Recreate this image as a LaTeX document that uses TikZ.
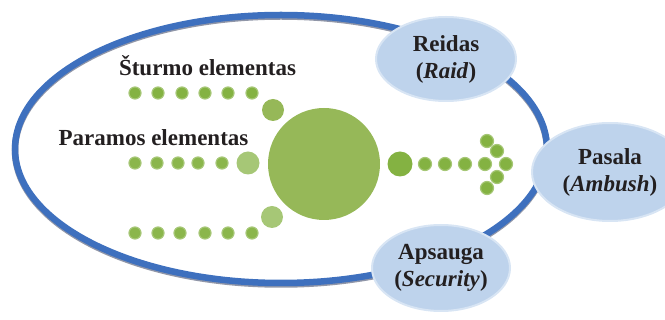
\documentclass[tikz,border=0pt]{standalone}
\usepackage{fontspec}
\setmainfont{Liberation Serif}
\usetikzlibrary{shapes.geometric}

\definecolor{ringblue}{RGB}{62,112,190}
\definecolor{ringshade}{RGB}{70,80,110}
\definecolor{padblue}{RGB}{190,211,236}
\definecolor{leafgreen}{RGB}{132,178,66}
\definecolor{mossgreen}{RGB}{150,184,88}
\definecolor{palegreen}{RGB}{166,199,118}
\definecolor{inkgray}{RGB}{35,31,32}

\begin{document}
\begin{tikzpicture}[
  x=1pt, y=-1pt,
  pad/.style={ellipse, fill=padblue, draw=padblue!60!white, line width=2pt, inner sep=0pt,
    minimum width=140pt, minimum height=84pt, align=center, text=inkgray,
    font=\bfseries\fontsize{23}{27}\selectfont},
  lbl/.style={anchor=base, text=inkgray, inner sep=0pt, font=\bfseries\fontsize{23}{27}\selectfont},
  dot/.style={circle, fill=leafgreen, draw=palegreen, line width=1.2pt, minimum size=12pt, inner sep=0pt},
  ball/.style={circle, fill=mossgreen, inner sep=0pt}
]
\useasboundingbox (0,0) rectangle (665,320);

% outer ring
\draw[ringshade!60, line width=6.5pt] (281,150.5) ellipse [x radius=266, y radius=134];
\draw[ringblue, line width=6.5pt] (281,149) ellipse [x radius=266, y radius=134];

% three rows of elements
\foreach \xx [count=\k] in {135,158,182,205,228,252}
  \node[dot] (st\k) at (\xx,93) {};
\node[ball, minimum size=22pt] (stlink) at (273,110) {};

\foreach \xx [count=\k] in {135,157,178,198,222}
  \node[dot, fill=leafgreen!80!palegreen] (pa\k) at (\xx,163) {};
\node[ball, fill=palegreen, minimum size=23pt] (palink) at (248,163) {};

\foreach \xx [count=\k] in {135,158,180,205,228,252}
  \node[dot, fill=leafgreen!80!palegreen] (ap\k) at (\xx,233) {};
\node[ball, fill=palegreen, minimum size=22pt] (aplink) at (272,217) {};

\node[ball, minimum size=112pt] (core) at (324,164) {};

% arrow towards the ambush
\node[ball, fill=leafgreen, minimum size=25pt] (head) at (400,164) {};
\foreach \xx [count=\k] in {425,445,465,485,506}
  \node[dot, minimum size=13pt] (ar\k) at (\xx,164) {};
\node[dot, minimum size=13pt] (tipa) at (487,141) {};
\node[dot, minimum size=13pt] (tipb) at (497,151) {};
\node[dot, minimum size=13pt] (tipc) at (497,177) {};
\node[dot, minimum size=13pt] (tipd) at (487,188) {};

\node[lbl] (sturm) at (207.5,76) {Šturmo elementas};
\node[lbl] (param) at (153.5,146) {Paramos elementas};

% tasks
\node[pad] (raid) at (446,59) {Reidas\\(\textit{Raid})};
\node[pad, minimum width=156pt, minimum height=98pt] (ambush) at (610,172) {Pasala\\(\textit{Ambush})};
\node[pad, minimum width=138pt, minimum height=86pt] (security) at (441,268) {Apsauga\\(\textit{Security})};
\end{tikzpicture}
\end{document}
